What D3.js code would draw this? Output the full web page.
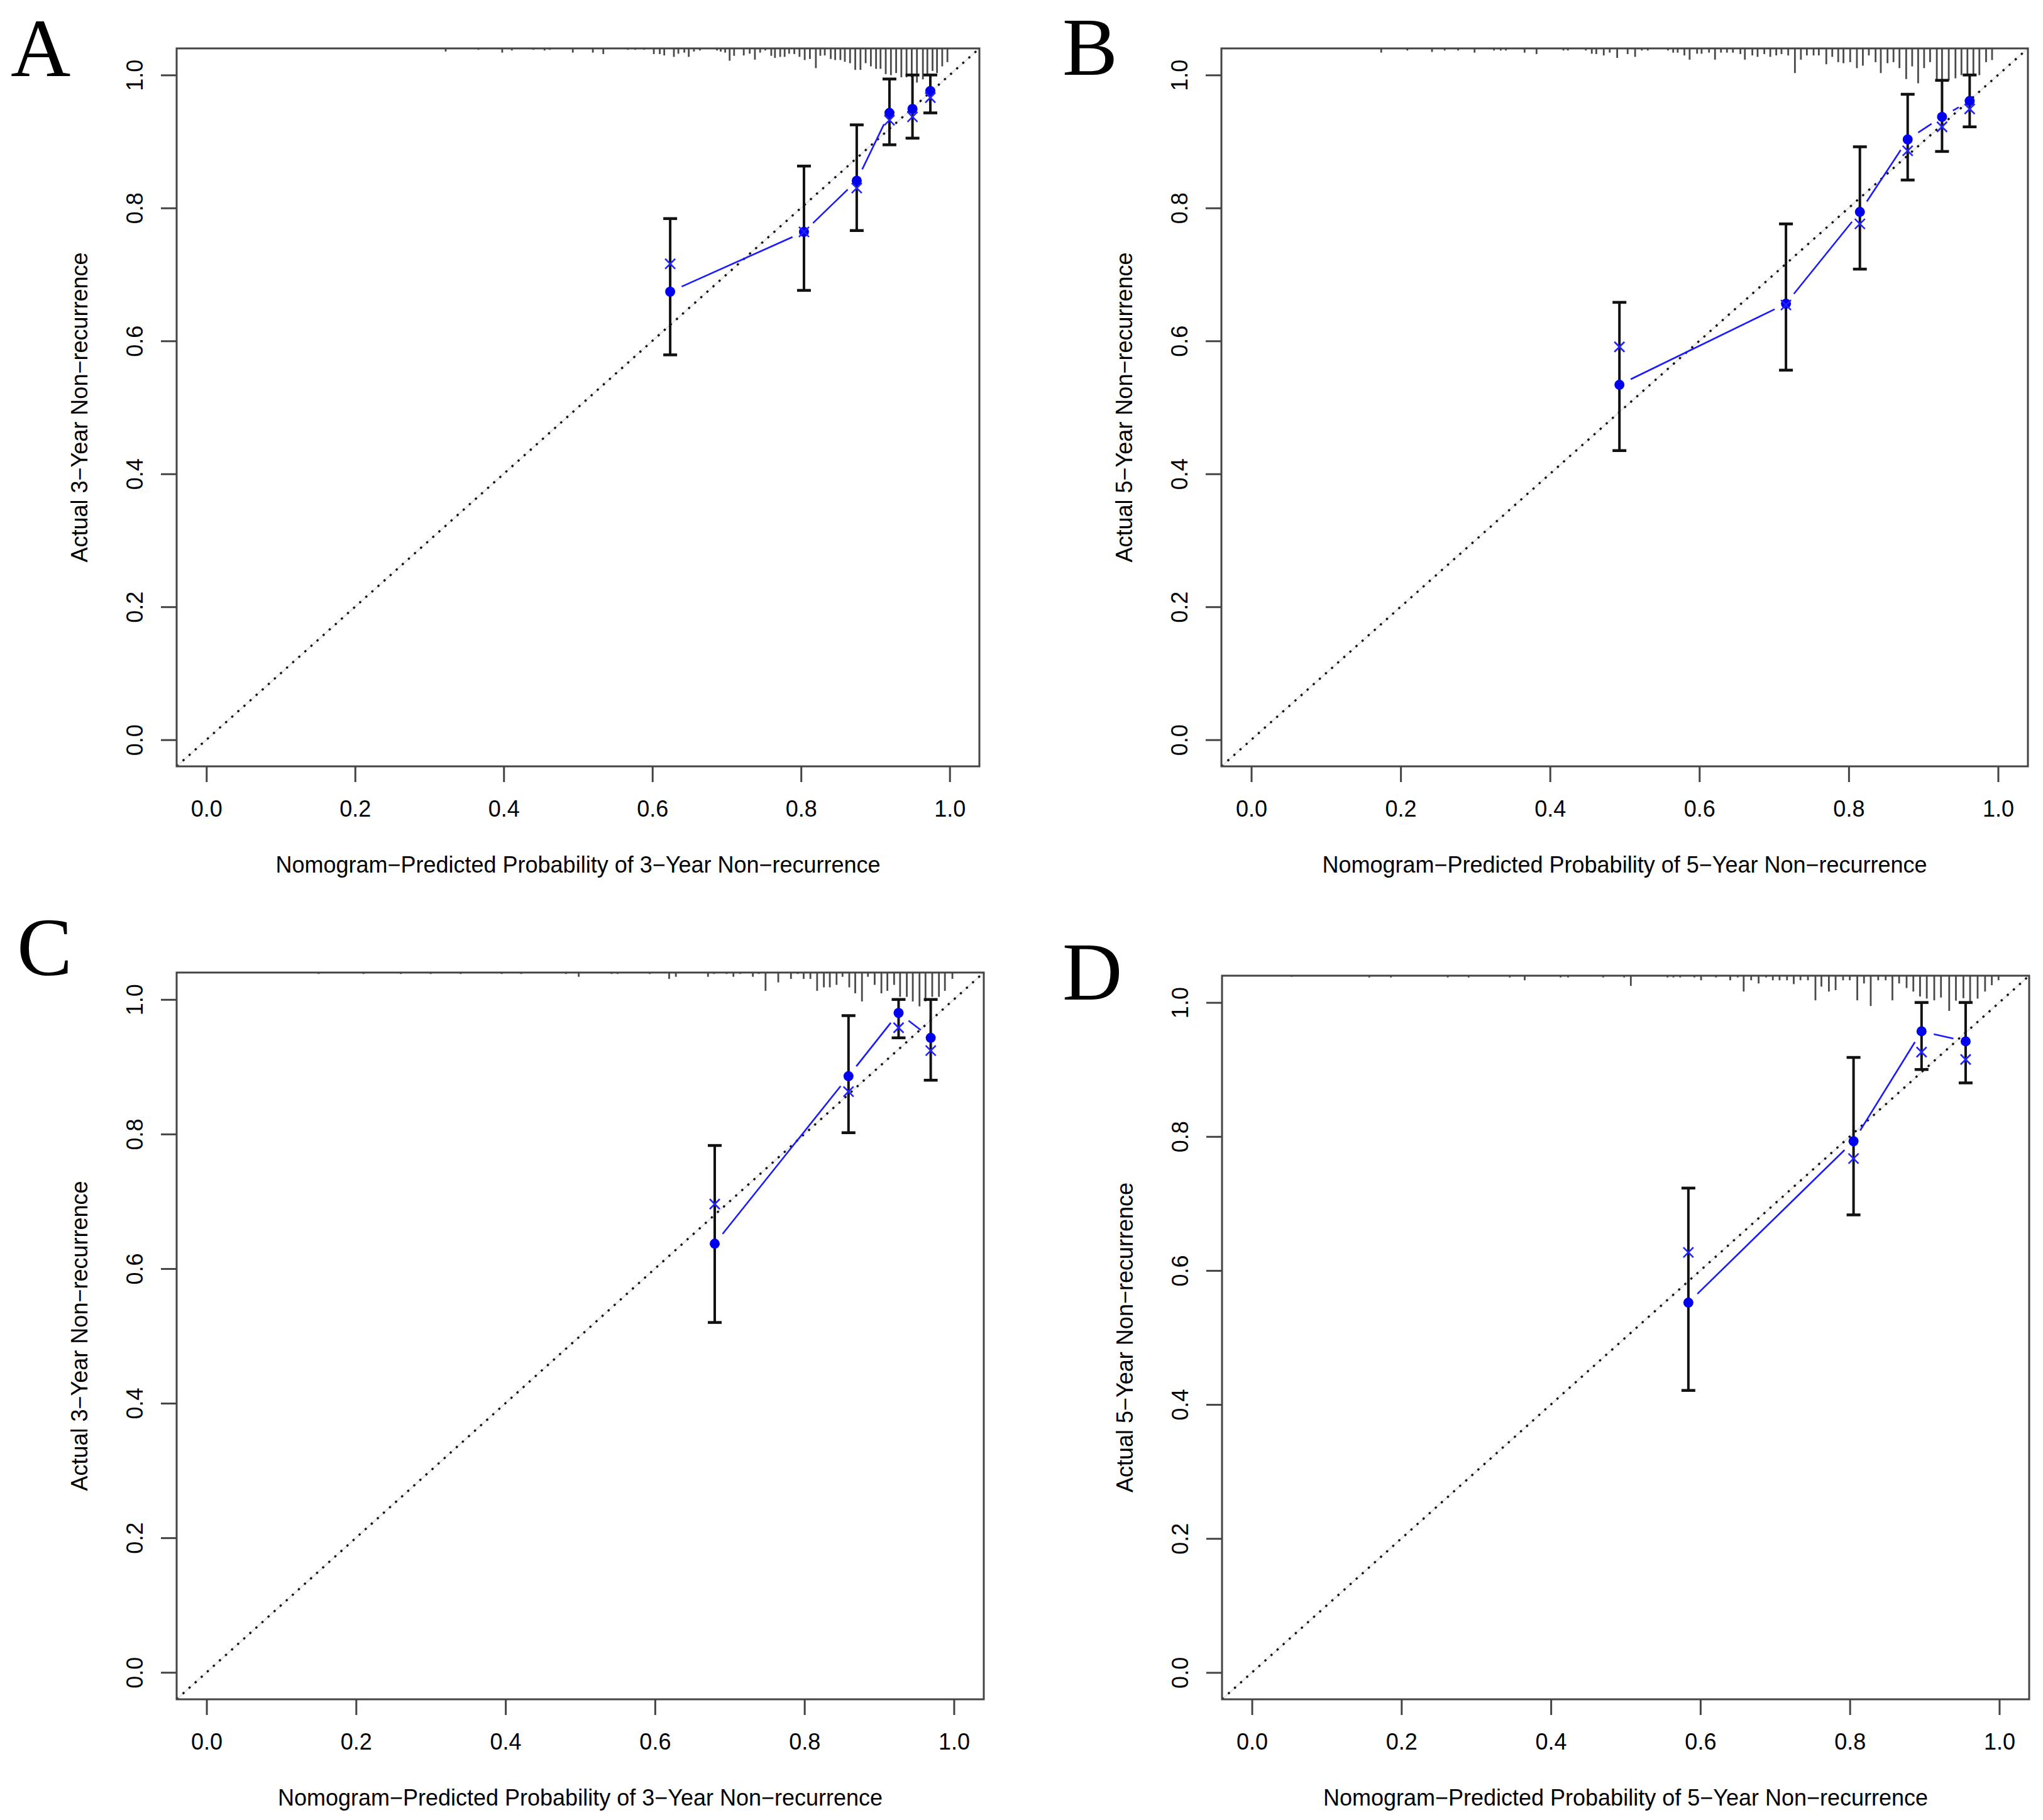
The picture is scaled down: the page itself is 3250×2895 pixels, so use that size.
<!DOCTYPE html>
<html>
<head>
<meta charset="utf-8">
<script src="https://cdn.jsdelivr.net/npm/d3@7"></script>
<style>
  body { margin: 0; background: #fff; }
  text { font-family: "Liberation Sans", Arial, sans-serif; }
</style>
</head>
<body>
<div id="chart"></div>
<script>
// Axis ticks (both axes)
const tickValues = [0, 0.2, 0.4, 0.6, 0.8, 1.0];

// Panel A: 3-year, training
const predA = [0.624, 0.804, 0.875, 0.919, 0.950, 0.974];
const obsA  = [0.674, 0.764, 0.841, 0.943, 0.949, 0.976];
const corrA = [0.716, 0.764, 0.830, 0.932, 0.937, 0.966];
const lowA  = [0.579, 0.676, 0.766, 0.895, 0.905, 0.943];
const upA   = [0.784, 0.863, 0.925, 0.994, 1.000, 1.000];

// Panel B: 5-year, training
const predB = [0.493, 0.716, 0.815, 0.879, 0.925, 0.962];
const obsB  = [0.534, 0.656, 0.794, 0.903, 0.937, 0.961];
const corrB = [0.591, 0.654, 0.776, 0.886, 0.922, 0.949];
const lowB  = [0.435, 0.556, 0.708, 0.842, 0.885, 0.922];
const upB   = [0.658, 0.776, 0.892, 0.971, 0.992, 1.000];

// Panel C: 3-year, validation
const predC = [0.680, 0.859, 0.926, 0.969];
const obsC  = [0.637, 0.886, 0.980, 0.943];
const corrC = [0.696, 0.863, 0.958, 0.924];
const lowC  = [0.520, 0.802, 0.943, 0.880];
const upC   = [0.783, 0.976, 1.000, 1.000];

// Panel D: 5-year, validation
const predD = [0.584, 0.805, 0.896, 0.955];
const obsD  = [0.552, 0.793, 0.957, 0.942];
const corrD = [0.627, 0.767, 0.926, 0.915];
const lowD  = [0.421, 0.683, 0.900, 0.880];
const upD   = [0.723, 0.918, 1.000, 1.000];

// Risk distribution spikes: [predicted value, relative frequency]
const rugA = [[0.322,0.09],[0.366,0.04],[0.398,0.12],[0.411,0.06],[0.440,0.04],[0.455,0.06],[0.462,0.04],
  [0.493,0.12],[0.520,0.12],[0.534,0.16],[0.567,0.04],[0.577,0.04],[0.589,0.04],[0.602,0.16],[0.610,0.16],
  [0.616,0.20],[0.629,0.24],[0.635,0.15],[0.643,0.12],[0.649,0.24],[0.656,0.09],[0.664,0.06],[0.687,0.06],
  [0.692,0.09],[0.698,0.12],[0.704,0.35],[0.710,0.21],[0.723,0.20],[0.731,0.15],[0.738,0.32],[0.745,0.12],
  [0.752,0.06],[0.760,0.21],[0.765,0.27],[0.772,0.24],[0.778,0.24],[0.784,0.15],[0.791,0.16],[0.798,0.24],
  [0.805,0.33],[0.812,0.30],[0.820,0.56],[0.826,0.21],[0.832,0.20],[0.840,0.30],[0.846,0.33],[0.853,0.33],
  [0.859,0.38],[0.866,0.42],[0.873,0.61],[0.880,0.61],[0.887,0.42],[0.894,0.51],[0.901,0.58],[0.907,0.58],
  [0.914,0.73],[0.921,0.76],[0.928,0.70],[0.935,0.82],[0.942,0.82],[0.949,0.82],[0.956,0.97],[0.964,0.88],
  [0.970,0.76],[0.977,0.64],[0.983,0.70],[0.990,0.51],[0.997,0.39]];

const rugB = [[0.174,0.12],[0.209,0.06],[0.242,0.10],[0.259,0.06],[0.277,0.06],[0.299,0.12],[0.325,0.06],
  [0.334,0.06],[0.341,0.06],[0.366,0.12],[0.382,0.16],[0.418,0.06],[0.424,0.06],[0.448,0.06],[0.456,0.15],
  [0.462,0.16],[0.472,0.20],[0.480,0.12],[0.490,0.27],[0.504,0.16],[0.514,0.24],[0.523,0.06],[0.531,0.06],
  [0.558,0.06],[0.565,0.12],[0.571,0.12],[0.580,0.20],[0.587,0.32],[0.597,0.15],[0.603,0.15],[0.613,0.12],
  [0.621,0.32],[0.629,0.12],[0.637,0.12],[0.645,0.12],[0.655,0.16],[0.661,0.32],[0.671,0.20],[0.678,0.24],
  [0.687,0.16],[0.695,0.24],[0.703,0.20],[0.710,0.16],[0.719,0.20],[0.728,0.70],[0.736,0.32],[0.744,0.20],
  [0.753,0.20],[0.760,0.20],[0.770,0.45],[0.778,0.24],[0.786,0.39],[0.793,0.42],[0.802,0.39],[0.811,0.56],
  [0.819,0.49],[0.827,0.20],[0.836,0.39],[0.843,0.70],[0.852,0.42],[0.860,0.39],[0.868,0.56],[0.877,0.87],
  [0.885,0.51],[0.893,0.99],[0.901,0.56],[0.909,0.39],[0.918,0.91],[0.925,0.94],[0.934,0.91],[0.943,0.85],
  [0.951,0.76],[0.959,0.76],[0.967,0.76],[0.975,0.76],[0.984,0.39],[0.992,0.33]];

const rugC = [[0.150,0.04],[0.210,0.04],[0.260,0.04],[0.300,0.04],[0.340,0.04],[0.395,0.04],[0.421,0.04],
  [0.481,0.04],[0.498,0.12],[0.542,0.04],[0.550,0.04],[0.593,0.04],[0.619,0.18],[0.628,0.12],[0.671,0.12],
  [0.679,0.04],[0.696,0.04],[0.705,0.12],[0.714,0.04],[0.731,0.12],[0.739,0.04],[0.748,0.52],[0.765,0.28],
  [0.782,0.18],[0.791,0.04],[0.799,0.18],[0.808,0.18],[0.817,0.52],[0.826,0.42],[0.834,0.42],[0.843,0.35],
  [0.851,0.12],[0.860,0.42],[0.868,0.59],[0.877,0.82],[0.885,0.12],[0.894,0.35],[0.903,0.59],[0.911,0.52],
  [0.920,0.35],[0.928,0.69],[0.937,0.69],[0.945,0.82],[0.954,0.96],[0.962,0.82],[0.971,0.69],[0.980,0.69],
  [0.988,0.52],[0.998,0.18]];

const rugD = [[0.053,0.03],[0.157,0.05],[0.186,0.05],[0.262,0.05],[0.290,0.05],[0.345,0.05],[0.365,0.13],
  [0.413,0.05],[0.423,0.05],[0.470,0.05],[0.498,0.05],[0.507,0.29],[0.556,0.05],[0.564,0.05],[0.573,0.05],
  [0.592,0.05],[0.601,0.13],[0.621,0.05],[0.640,0.13],[0.650,0.05],[0.658,0.45],[0.668,0.13],[0.678,0.22],
  [0.688,0.05],[0.697,0.13],[0.706,0.13],[0.716,0.13],[0.725,0.24],[0.734,0.13],[0.744,0.13],[0.754,0.70],
  [0.762,0.31],[0.772,0.45],[0.781,0.41],[0.791,0.13],[0.800,0.13],[0.810,0.70],[0.819,0.22],[0.828,0.86],
  [0.838,0.13],[0.848,0.13],[0.857,0.70],[0.866,0.22],[0.876,0.35],[0.885,0.45],[0.894,0.59],[0.903,0.65],
  [0.913,0.70],[0.922,0.62],[0.933,1.00],[0.942,0.71],[0.952,0.64],[0.961,0.77],[0.971,0.65],[0.981,0.45],
  [0.990,0.27],[0.999,0.13]];

const width = 3250;
const height = 2895;

const svg = d3.select("#chart")
    .append("svg")
    .attr("width", width)
    .attr("height", height);

svg.append("rect").attr("width", width).attr("height", height).attr("fill", "#fff");

const panels = [
    { id: "A", years: 3, box: [281, 1558, 77, 1219], label: [17, 121],
      pred: predA, obs: obsA, corr: corrA, low: lowA, up: upA, rug: rugA },
    { id: "B", years: 5, box: [1943, 3226, 77, 1219], label: [1690, 119],
      pred: predB, obs: obsB, corr: corrB, low: lowB, up: upB, rug: rugB },
    { id: "C", years: 3, box: [281, 1565, 1547, 2703], label: [27, 1551],
      pred: predC, obs: obsC, corr: corrC, low: lowC, up: upC, rug: rugC },
    { id: "D", years: 5, box: [1944, 3228, 1552, 2703], label: [1690, 1590],
      pred: predD, obs: obsD, corr: corrD, low: lowD, up: upD, rug: rugD }
];

function drawPanel(p) {
    const [left, right, top, bottom] = p.box;
    const x = d3.scaleLinear().domain([-0.04, 1.04]).range([left, right]);
    const y = d3.scaleLinear().domain([-0.04, 1.04]).range([bottom, top]);
    const spike = d3.scaleLinear().domain([0, 1]).range([0, 56]);

    const g = svg.append("g").attr("class", "panel-" + p.id);

    // clip to plot box
    const clipId = "clip-" + p.id;
    svg.append("defs").append("clipPath").attr("id", clipId)
        .append("rect")
        .attr("x", left).attr("y", top)
        .attr("width", right - left).attr("height", bottom - top);

    // risk distribution spikes along the top
    g.append("g").selectAll("line")
        .data(p.rug)
        .join("line")
        .attr("x1", d => x(d[0])).attr("x2", d => x(d[0]))
        .attr("y1", top).attr("y2", d => top + spike(d[1]))
        .attr("stroke", "#4a4a4a")
        .attr("stroke-width", 2.8);

    // ideal diagonal (dotted)
    const diag = g.append("g").attr("clip-path", `url(#${clipId})`);
    diag.append("line")
        .attr("x1", x(-0.04)).attr("y1", y(-0.04))
        .attr("x2", x(1.04)).attr("y2", y(1.04))
        .attr("stroke", "#e4e4e4").attr("stroke-width", 2);
    diag.append("line")
        .attr("x1", x(-0.04)).attr("y1", y(-0.04))
        .attr("x2", x(1.04)).attr("y2", y(1.04))
        .attr("stroke", "#111").attr("stroke-width", 3.4)
        .attr("stroke-dasharray", "3.4,9.6");

    const pts = p.pred.map((v, i) => ({
        px: v, obs: p.obs[i], corr: p.corr[i], low: p.low[i], up: p.up[i]
    }));

    // error bars
    const bars = g.append("g").attr("stroke", "#111").attr("stroke-width", 4);
    pts.forEach(d => {
        const cx = x(d.px);
        bars.append("line").attr("x1", cx).attr("x2", cx)
            .attr("y1", y(d.low)).attr("y2", y(d.up));
        bars.append("line").attr("x1", cx - 11).attr("x2", cx + 11)
            .attr("y1", y(d.low)).attr("y2", y(d.low)).attr("stroke-width", 4.5);
        bars.append("line").attr("x1", cx - 11).attr("x2", cx + 11)
            .attr("y1", y(d.up)).attr("y2", y(d.up)).attr("stroke-width", 4.5);
    });

    // observed line, type "b": segments with gaps around points
    const gap = 20;
    const lineG = g.append("g").attr("stroke", "#1a1aff").attr("stroke-width", 2.6);
    for (let i = 0; i < pts.length - 1; i++) {
        const x1 = x(pts[i].px), y1 = y(pts[i].obs);
        const x2 = x(pts[i + 1].px), y2 = y(pts[i + 1].obs);
        const len = Math.hypot(x2 - x1, y2 - y1);
        if (len <= 2 * gap) continue;
        const ux = (x2 - x1) / len, uy = (y2 - y1) / len;
        lineG.append("line")
            .attr("x1", x1 + ux * gap).attr("y1", y1 + uy * gap)
            .attr("x2", x2 - ux * gap).attr("y2", y2 - uy * gap);
    }

    // observed points
    g.append("g").selectAll("circle")
        .data(pts)
        .join("circle")
        .attr("cx", d => x(d.px))
        .attr("cy", d => y(d.obs))
        .attr("r", 8)
        .attr("fill", "#0000ee");

    // bias-corrected points (x marks)
    const s = 8;
    const crosses = g.append("g").attr("stroke", "#2222ff").attr("stroke-width", 2.6);
    pts.forEach(d => {
        const cx = x(d.px), cy = y(d.corr);
        crosses.append("line").attr("x1", cx - s).attr("y1", cy - s).attr("x2", cx + s).attr("y2", cy + s);
        crosses.append("line").attr("x1", cx - s).attr("y1", cy + s).attr("x2", cx + s).attr("y2", cy - s);
    });

    // box
    g.append("rect")
        .attr("x", left).attr("y", top)
        .attr("width", right - left).attr("height", bottom - top)
        .attr("fill", "none")
        .attr("stroke", "#444")
        .attr("stroke-width", 3);

    // x axis
    const xAxis = g.append("g")
        .attr("transform", `translate(0,${bottom})`)
        .call(d3.axisBottom(x).tickValues(tickValues).tickFormat(d3.format(".1f"))
            .tickSize(25).tickPadding(29));
    xAxis.select(".domain").remove();
    xAxis.selectAll("line").attr("stroke", "#444").attr("stroke-width", 3);
    xAxis.selectAll("text")
        .attr("fill", "#000")
        .style("font-size", "36px")
        .style("font-family", '"Liberation Sans", Arial, sans-serif');

    // y axis (labels parallel to axis)
    const yAxis = g.append("g")
        .attr("transform", `translate(${left},0)`)
        .call(d3.axisLeft(y).tickValues(tickValues).tickFormat(d3.format(".1f")).tickSize(25));
    yAxis.select(".domain").remove();
    yAxis.selectAll("line").attr("stroke", "#444").attr("stroke-width", 3);
    yAxis.selectAll("text")
        .attr("transform", "rotate(-90)")
        .attr("x", 0)
        .attr("y", -67)
        .attr("dy", "0.36em")
        .attr("text-anchor", "middle")
        .attr("fill", "#000")
        .style("font-size", "36px")
        .style("font-family", '"Liberation Sans", Arial, sans-serif');

    // axis titles
    g.append("text")
        .attr("x", (left + right) / 2)
        .attr("y", bottom + 156)
        .attr("dy", "0.36em")
        .attr("text-anchor", "middle")
        .style("font-size", "36px")
        .text(`Nomogram\u2212Predicted Probability of ${p.years}\u2212Year Non\u2212recurrence`);

    g.append("text")
        .attr("transform", `translate(${left - 155},${(top + bottom) / 2}) rotate(-90)`)
        .attr("dy", "0.36em")
        .attr("text-anchor", "middle")
        .style("font-size", "36px")
        .text(`Actual ${p.years}\u2212Year Non\u2212recurrence`);

    // panel letter
    g.append("text")
        .attr("x", p.label[0])
        .attr("y", p.label[1])
        .style("font-family", '"Liberation Serif", "Times New Roman", serif')
        .style("font-size", "132px")
        .text(p.id);
}

panels.forEach(drawPanel);
</script>
</body>
</html>
